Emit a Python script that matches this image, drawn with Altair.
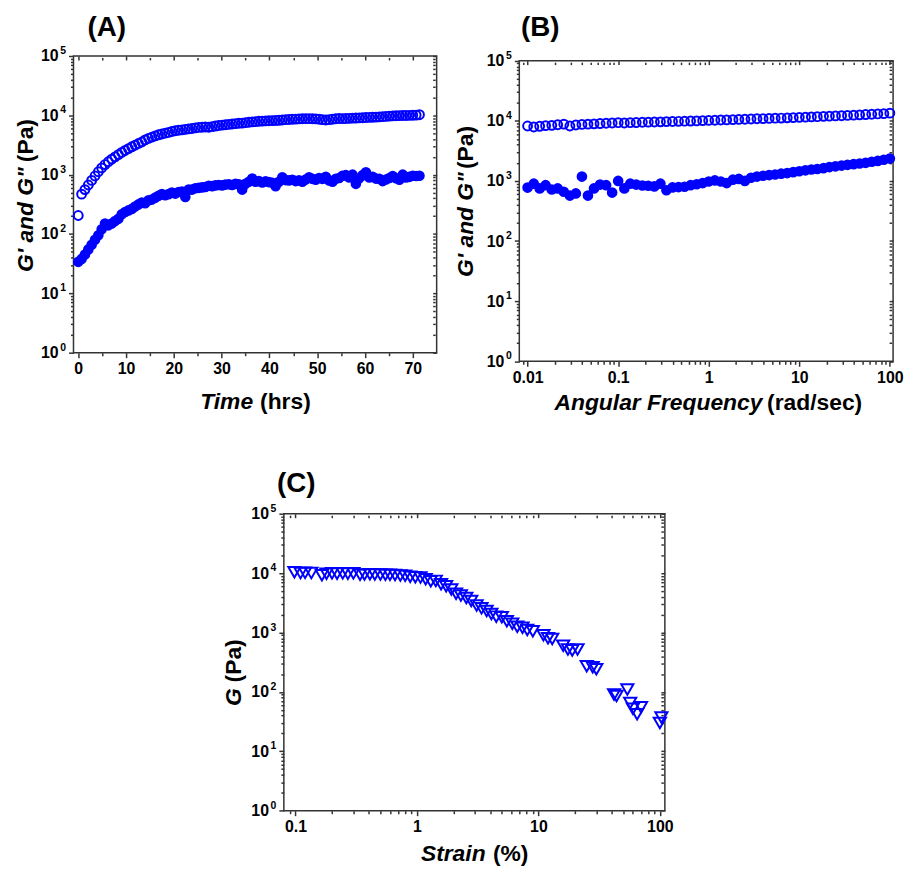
import altair as alt
import pandas as pd

FONT = "Liberation Sans"
BLUE = "#0000ff"
INK = "#000000"
FRAME = "#333333"

# ---------------- Panel A : time sweep ----------------
a_time = [0.0, 0.7, 1.4, 2.1, 2.8, 3.5, 4.2, 4.9, 5.6, 6.3, 7.0, 7.7, 8.4, 9.1, 9.8,
          10.5, 11.2, 11.9, 12.6, 13.3, 14.0, 14.7, 15.4, 16.1, 16.8, 17.5, 18.2, 18.9,
          19.6, 20.3, 21.0, 21.7, 22.4, 23.1, 23.8, 24.5, 25.2, 25.9, 26.6, 27.3, 28.0,
          28.7, 29.4, 30.1, 30.8, 31.5, 32.2, 32.9, 33.6, 34.3, 35.0, 35.7, 36.4, 37.1,
          37.8, 38.5, 39.2, 39.9, 40.6, 41.3, 42.0, 42.7, 43.4, 44.1, 44.8, 45.5, 46.2,
          46.9, 47.6, 48.3, 49.0, 49.7, 50.4, 51.1, 51.8, 52.5, 53.2, 53.9, 54.6, 55.3,
          56.0, 56.7, 57.4, 58.1, 58.8, 59.5, 60.2, 60.9, 61.6, 62.3, 63.0, 63.7, 64.4,
          65.1, 65.8, 66.5, 67.2, 67.9, 68.6, 69.3, 70.0, 70.7, 71.4]
a_gp = [205, 470, 560, 670, 800, 950, 1120, 1300, 1480, 1650, 1830, 2000, 2180, 2370, 2560,
        2750, 2950, 3150, 3350, 3550, 3850, 4100, 4300, 4500, 4700, 4850, 5000, 5150,
        5350, 5500, 5600, 5700, 5800, 5900, 6000, 6150, 6250, 6300, 6350, 6300, 6450,
        6600, 6750, 6850, 6950, 7050, 7150, 7250, 7350, 7400, 7550, 7650, 7750, 7850,
        7950, 8000, 8050, 8100, 8150, 8200, 8250, 8350, 8450, 8500, 8600, 8650, 8700,
        8750, 8800, 8800, 8750, 8700, 8600, 8450, 8350, 8450, 8600, 8750, 8850, 8800,
        8850, 8900, 8950, 9000, 9050, 9100, 9200, 9250, 9300, 9350, 9400, 9500, 9600,
        9700, 9800, 9850, 9900, 9950, 9950, 10000, 10050, 10100, 10250]
a_gpp = [34, 38, 45, 55, 66, 80, 95, 120, 150, 140, 150, 165, 180, 215, 235,
         250, 265, 290, 315, 340, 330, 370, 380, 410, 440, 470, 450, 470,
         500, 480, 510, 520, 420, 560, 560, 590, 600, 610, 620, 650, 640,
         660, 670, 660, 680, 690, 670, 700, 690, 560, 700, 760, 860, 760,
         780, 740, 770, 750, 730, 640, 760, 900, 810, 800, 820, 780, 800,
         760, 830, 900, 850, 820, 880, 850, 920, 800, 760, 850, 880, 960,
         980, 900, 1000, 700, 870, 980, 1100, 900, 920, 860, 850, 780, 830,
         880, 950, 870, 820, 1000, 900, 920, 960, 950, 960]

# ---------------- Panel B : frequency sweep ----------------
b_freq = [0.01, 0.0117, 0.0136, 0.0158, 0.0185, 0.0215, 0.0251, 0.0293, 0.0341, 0.0398,
          0.0464, 0.0541, 0.0631, 0.0736, 0.0858, 0.1, 0.117, 0.136, 0.158, 0.185, 0.215,
          0.251, 0.293, 0.341, 0.398, 0.464, 0.541, 0.631, 0.736, 0.858, 1, 1.17, 1.36,
          1.58, 1.85, 2.15, 2.51, 2.93, 3.41, 3.98, 4.64, 5.41, 6.31, 7.36, 8.58, 10,
          11.7, 13.6, 15.8, 18.5, 21.5, 25.1, 29.3, 34.1, 39.8, 46.4, 54.1, 63.1, 73.6,
          85.8, 100]
b_gp = [8200, 7900, 8100, 8300, 8400, 8600, 8800, 8200, 8500, 8700, 8800, 8900, 9000,
        9100, 9200, 9300, 9200, 9300, 9350, 9450, 9500, 9550, 9600, 9700, 9750, 9800,
        9850, 9900, 9950, 10050, 10150, 10200, 10300, 10350, 10450, 10550, 10600, 10700,
        10800, 10850, 10950, 11050, 11100, 11200, 11300, 11400, 11500, 11600, 11700,
        11850, 11950, 12050, 12150, 12300, 12400, 12550, 12700, 12850, 13000, 13150, 13400]
b_gpp = [775, 900, 750, 850, 720, 750, 660, 570, 620, 1180, 570, 750, 870, 850, 640,
         1000, 750, 900, 870, 840, 830, 810, 900, 700, 780, 790, 800, 850, 880, 920,
         980, 1020, 980, 920, 1050, 1080, 1000, 1130, 1180, 1220, 1250, 1280, 1320,
         1350, 1400, 1450, 1500, 1550, 1580, 1630, 1700, 1750, 1800, 1850, 1900, 1950,
         2000, 2080, 2150, 2250, 2350]

# ---------------- Panel C : strain sweep ----------------
c_strain = [0.098, 0.11, 0.12, 0.135, 0.165, 0.18, 0.2, 0.22, 0.245, 0.27, 0.3, 0.34,
            0.37, 0.41, 0.45, 0.5, 0.55, 0.6, 0.66, 0.73, 0.8, 0.88, 0.97, 1.07, 1.18,
            1.3, 1.43, 1.58, 1.74, 1.92, 2.1, 2.3, 2.55, 2.8, 3.1, 3.4, 3.75, 4.1, 4.5,
            5.0, 5.5, 6.1, 6.7, 7.4, 8.1, 9.0, 11, 12, 13, 16, 17.5, 19, 21, 25, 28, 30,
            42, 44, 54, 57, 60, 65, 70, 100, 103]
c_g = [10300, 10000, 10100, 10000, 9200, 9800, 9900, 9800, 9900, 9800, 9900, 9400,
       9500, 9600, 9500, 9500, 9400, 9400, 9300, 9100, 9000, 8700, 8500, 8400, 7900,
       7300, 7400, 6500, 6000, 5300, 4500, 4200, 3800, 3400, 2850, 2550, 2300, 2050, 1850,
       1800, 1550, 1400, 1250, 1200, 1100, 1050, 900, 800, 780, 600, 520, 500, 520, 270,
       260, 240, 90, 85, 110, 65, 52, 42, 55, 30, 37]

# ---------------- texts ----------------
tags = ["(A)", "(B)", "(C)"]
a_xtitle = ["Time", "(hrs)"]
b_xtitle = ["Angular Frequency", "(rad/sec)"]
c_xtitle = ["Strain", "(%)"]
ab_ytitle = ["G' and G\"", "(Pa)"]
c_ytitle = ["G", "(Pa)"]
decades = [1, 10, 100, 1000, 10000, 100000]
decade_exp = ["0", "1", "2", "3", "4", "5"]

# ---------------- axis helpers ----------------
LG = "(log(datum.value)/LN10)"
IS_DEC = f"abs({LG} - round({LG})) < 0.000001"


def log_ticks(lo, hi, extra_low=None):
    vals = [] if extra_low is None else [extra_low]
    for e in range(lo, hi):
        for m in range(1, 10):
            vals.append(round(m * 10.0 ** e, 8))
    vals.append(round(10.0 ** hi, 8))
    return vals


def tsize(test, major, minor):
    return {"condition": {"test": test, "value": major}, "value": minor}


LAB = dict(labelFont=FONT, labelFontSize=16, labelFontWeight="bold", labelColor=INK,
           labelOverlap=False, labelFlush=False)
TK = dict(domain=False, grid=False, tickColor=FRAME, tickWidth=1.5, title=None)

y_vals = log_ticks(0, 5)


def y_main(shift=0):
    return alt.Axis(orient="left", values=y_vals, offset=shift,
                    labelExpr=f"{IS_DEC} ? '10' : ''",
                    tickSize=tsize(IS_DEC, 5, 3), labelPadding=10.5, **LAB, **TK)


def y_mirror():
    return alt.Axis(orient="right", values=y_vals, labels=False, offset=-4,
                    tickSize=tsize(IS_DEC, 4, 2.5), **TK)


def xlog_axes(vals, top_shift=0):
    main = alt.Axis(orient="bottom", values=vals,
                    labelExpr=f"{IS_DEC} ? format(datum.value, '~g') : ''",
                    tickSize=tsize(IS_DEC, 5, 3), labelPadding=3, **LAB, **TK)
    mirror = alt.Axis(orient="top", values=vals, labels=False, offset=-4 - top_shift,
                      tickSize=tsize(IS_DEC, 4, 2.5), **TK)
    return main, mirror


def txt(s, x, y, size=23, italic=False, align="left", angle=0):
    return alt.Chart(alt.Data(values=[{}])).mark_text(
        text=s, font=FONT, fontSize=size, fontWeight="bold",
        fontStyle="italic" if italic else "normal", align=align,
        baseline="alphabetic", angle=angle, color=INK
    ).encode(x=alt.value(x), y=alt.value(y))


def exponents(yscale, x0=0):
    df = pd.DataFrame({"v": decades, "e": decade_exp})
    return alt.Chart(df).mark_text(
        font=FONT, fontSize=10.5, fontWeight="bold", align="right", baseline="middle",
        dy=-5, color=INK
    ).encode(x=alt.value(x0 - 7.5), y=alt.Y("v:Q", scale=yscale, axis=None), text="e:N")


def frame(x0, x1, y0, y1):
    return alt.Chart(alt.Data(values=[{}])).mark_rect(
        fillOpacity=0, stroke=FRAME, strokeWidth=1.5
    ).encode(x=alt.value(x0), x2=alt.value(x1), y=alt.value(y0), y2=alt.value(y1))


def titles(tag, tag_xy, xt, xt_split, xt_base, yt, yt_split, yt_base):
    return [
        txt(tag, tag_xy[0], tag_xy[1], size=28),
        txt(xt[0], xt_split[0], xt_base, italic=True, align="right"),
        txt(xt[1], xt_split[1], xt_base, align="left"),
        txt(yt[0], yt_base, yt_split[0], italic=True, align="right", angle=270),
        txt(yt[1], yt_base, yt_split[1], align="left", angle=270),
    ]


ys = alt.Scale(type="log", domain=[1, 100000], nice=False)

# ---------------- Panel A ----------------
dfa = pd.DataFrame({"t": a_time, "gp": a_gp, "gpp": a_gpp})
xa = alt.Scale(type="linear", domain=[-1, 75], nice=False, zero=False)
a_vals = [0, 5, 10, 15, 20, 25, 30, 35, 40, 45, 50, 55, 60, 65, 70]
xa_main = alt.Axis(orient="bottom", values=a_vals,
                   labelExpr="datum.value % 10 == 0 ? format(datum.value, 'd') : ''",
                   tickSize=tsize("datum.value % 10 == 0", 5, 3), labelPadding=3, **LAB, **TK)
xa_mirror = alt.Axis(orient="top", values=a_vals, labels=False, offset=-4,
                     tickSize=tsize("datum.value % 10 == 0", 4, 2.5), **TK)
ba = alt.Chart(dfa)
pa = alt.layer(
    ba.mark_circle(color=BLUE, size=115, opacity=1).encode(
        x=alt.X("t:Q", scale=xa, axis=None), y=alt.Y("gpp:Q", scale=ys, axis=None)),
    ba.mark_point(shape="circle", filled=False, color=BLUE, strokeWidth=2, size=80, opacity=1).encode(
        x=alt.X("t:Q", scale=xa, axis=xa_main), y=alt.Y("gp:Q", scale=ys, axis=y_main())),
    ba.mark_point(opacity=0).encode(
        x=alt.X("t:Q", scale=xa, axis=xa_mirror), y=alt.Y("gp:Q", scale=ys, axis=y_mirror())),
    exponents(ys),
    *titles(tags[0], (14, -20.3), a_xtitle, (181, 188), 356, ab_ytitle, (112, 107), -41),
).resolve_axis(x="independent", y="independent").properties(width=366, height=299)

# ---------------- Panel B (plot area starts 4.7 px lower) ----------------
B_W, B_TOP, B_BOT = 376.7, 4.7, 307.7
dfb = pd.DataFrame({"f": b_freq, "gp": b_gp, "gpp": b_gpp})
xb = alt.Scale(type="log", domain=[0.0081, 108.6], nice=False)
ysb = alt.Scale(type="log", domain=[1, 100000], nice=False, range=[B_BOT, B_TOP])
xb_main, xb_mirror = xlog_axes(log_ticks(-2, 2, extra_low=0.009), top_shift=B_TOP)
bb = alt.Chart(dfb)
pb = alt.layer(
    frame(0, B_W, B_TOP, B_BOT),
    bb.mark_circle(color=BLUE, size=115, opacity=1).encode(
        x=alt.X("f:Q", scale=xb, axis=None), y=alt.Y("gpp:Q", scale=ysb, axis=None)),
    bb.mark_point(shape="circle", filled=False, color=BLUE, strokeWidth=2, size=80, opacity=1).encode(
        x=alt.X("f:Q", scale=xb, axis=xb_main), y=alt.Y("gp:Q", scale=ysb, axis=y_main())),
    bb.mark_point(opacity=0).encode(
        x=alt.X("f:Q", scale=xb, axis=xb_mirror), y=alt.Y("gp:Q", scale=ysb, axis=y_mirror())),
    exponents(ysb),
    *titles(tags[1], (1.7, -19.7), b_xtitle, (245, 249.7), 357, ab_ytitle, (117, 114), -46.3),
).resolve_axis(x="independent", y="independent").properties(
    width=B_W, height=B_BOT, view=alt.ViewBackground(stroke="transparent"))

# ---------------- Panel C (sits in column 2, plot area shifted left) ----------------
C_OFF, C_W, C_H = 237.3, 384, 299.3
dfc = pd.DataFrame({"s": c_strain, "g": c_g})
xc = alt.Scale(type="log", domain=[0.0802, 110], nice=False, range=[-C_OFF, C_W - C_OFF])
xc_main, xc_mirror = xlog_axes(log_ticks(-1, 2, extra_low=0.09))
bc = alt.Chart(dfc)
pc = alt.layer(
    frame(-C_OFF, C_W - C_OFF, 0, C_H),
    bc.mark_point(shape="triangle-down", filled=False, color=BLUE, strokeWidth=2, size=150, opacity=1).encode(
        x=alt.X("s:Q", scale=xc, axis=xc_main), y=alt.Y("g:Q", scale=ys, axis=y_main(C_OFF))),
    bc.mark_point(opacity=0).encode(
        x=alt.X("s:Q", scale=xc, axis=xc_mirror), y=alt.Y("g:Q", scale=ys, axis=y_mirror())),
    exponents(ys, -C_OFF),
    *titles(tags[2], (-7 - C_OFF, -22.3), c_xtitle, (203.3 - C_OFF, 210.7 - C_OFF), 350,
            c_ytitle, (176, 170), -43 - C_OFF),
).resolve_axis(x="independent", y="independent").properties(
    width=C_W - C_OFF, height=C_H, view=alt.ViewBackground(stroke="transparent"))

spacer = alt.Chart(alt.Data(values=[{}])).mark_point(opacity=0).properties(
    width=10, height=1, view=alt.ViewBackground(stroke="transparent"))

chart = alt.concat(
    pa, pb, spacer, pc, columns=2,
    spacing={"row": 153.3, "column": 83.3},
    bounds="flush",
).properties(
    padding={"left": 6, "top": 1, "right": 0, "bottom": 0},
    background="white",
).configure_view(stroke=FRAME, strokeWidth=1.5)

chart.save("out.html", embed_options={"renderer": "svg", "actions": False})
